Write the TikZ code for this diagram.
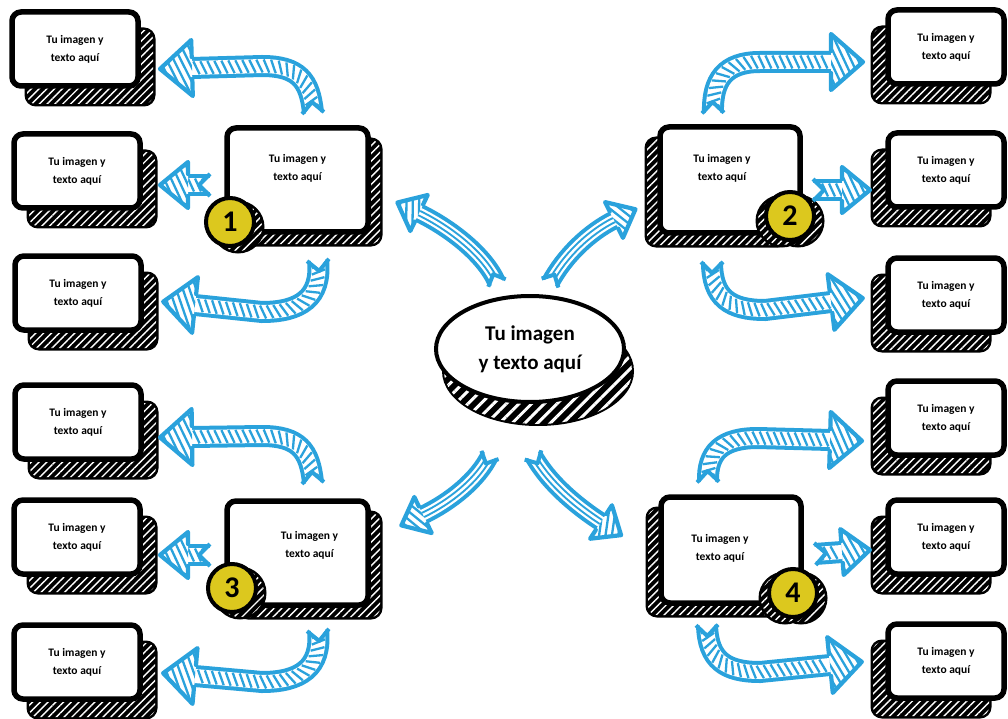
\documentclass[tikz,border=0pt]{standalone}
\usepackage{fontspec}
\setmainfont{Carlito}
\usetikzlibrary{shapes.geometric,shadows,patterns.meta,decorations.markings}
\definecolor{ablue}{HTML}{2AA2DC}
\definecolor{byellow}{HTML}{DCC81E}

% notched tail of an arrow (#1 = half width of the body)
\newcommand\atail[1]{%
  \fill[white] (-1,-#1+3) -- (#1,0) -- (-1,#1-3) -- cycle;
  \draw[ablue, line width=4pt, line join=round] (0,-#1) -- (#1,0) -- (0,#1);
}
% hatched head of an arrow (#1 length, #2 half height, #3 half width of the body)
\newcommand\ahead[3]{%
  \fill[white] (0,-#2) -- (#1,0) -- (0,#2) -- cycle;
  \begin{scope}
    \clip (0,-#2) -- (#1,0) -- (0,#2) -- cycle;
    \foreach \k in {-42,-35,...,42} \draw[ablue, line width=2.3pt] (\k-14,-30) -- (\k+14,30);
  \end{scope}
  \draw[ablue, line width=4.2pt, line join=round, line cap=round]
    (0,-#3) -- (0,-#2) -- (#1,0) -- (0,#2) -- (0,#3);
}

\tikzset{
  hatchshadow/.style 2 args={
    general shadow={shadow xshift=#1, shadow yshift=#2, fill=black, draw=black, line width=5pt},
    general shadow={shadow xshift=#1, shadow yshift=#2,
      pattern={Lines[angle=45,distance=5.5pt,line width=1.4pt]}, pattern color=white}},
  boxbase/.style={rectangle, rounded corners=9pt, draw=black, line width=5.5pt, fill=white,
    align=center, inner sep=2pt, font=\bfseries\fontsize{11.5}{18}\selectfont},
  txt/.style={align=center, inner sep=0pt, font=\bfseries\fontsize{11.5}{18}\selectfont},
  smallL/.style={boxbase, minimum width=126pt, minimum height=74pt, hatchshadow={15pt}{-18pt}},
  smallR/.style={boxbase, minimum width=116pt, minimum height=74pt, hatchshadow={-15pt}{-18pt}},
  midA/.style={boxbase, minimum width=141pt, minimum height=104pt, hatchshadow={12pt}{-12pt}},
  midB/.style={boxbase, minimum width=140pt, minimum height=106pt, hatchshadow={-13pt}{-12pt}},
  badgeA/.style={circle, fill=byellow, draw=black, line width=4pt, minimum size=48pt,
    inner sep=0pt, font=\bfseries\fontsize{30}{30}\selectfont, hatchshadow={8pt}{-5pt}},
  badgeB/.style={badgeA, hatchshadow={-8pt}{-5pt}},
  sidearrow/.style={
    postaction={draw=ablue, line width=22pt},
    postaction={draw=white, line width=14pt},
    postaction={decorate, decoration={markings,
      mark=between positions 5pt and -3pt step 7pt with {\draw[ablue, line width=2.3pt] (-3,-6.5) -- (3,6.5);}}},
    postaction={decorate, decoration={markings, mark=at position 0 with {\atail{11}}}},
    postaction={decorate, decoration={markings, mark=at position 1 with {\ahead{32}{28}{11}}}}},
  chevron/.style={
    postaction={draw=ablue, line width=22pt},
    postaction={draw=white, line width=14pt},
    postaction={decorate, decoration={markings,
      mark=between positions 5pt and -3pt step 7pt with {\draw[ablue, line width=2.3pt] (-3,-6.5) -- (3,6.5);}}},
    postaction={decorate, decoration={markings, mark=at position 0 with {\atail{11}}}},
    postaction={decorate, decoration={markings, mark=at position 1 with {\ahead{28}{23}{11}}}}},
  centerarrow/.style={
    postaction={draw=ablue, line width=19pt},
    postaction={draw=white, line width=11pt},
    postaction={draw=ablue, line width=6.5pt},
    postaction={draw=white, line width=2.5pt},
    postaction={decorate, decoration={markings, mark=at position 0 with {\atail{9.5}}}},
    postaction={decorate, decoration={markings, mark=at position 1 with {\ahead{24}{20}{9.5}}}}},
}

\begin{document}
\begin{tikzpicture}[x=1pt,y=-1pt]
\fill[white] (0,0) rectangle (1008,719);
\useasboundingbox (0,0) rectangle (1008,719);

% ---------- small boxes, left ----------
\node[smallL] (l1) at (75,49)  {Tu imagen y\\texto aquí};
\node[smallL] (l2) at (77,171) {Tu imagen y\\texto aquí};
\node[smallL] (l3) at (78,293) {Tu imagen y\\texto aquí};
\node[smallL] (l4) at (78,422) {Tu imagen y\\texto aquí};
\node[smallL] (l5) at (77,537) {Tu imagen y\\texto aquí};
\node[smallL] (l6) at (77,662) {Tu imagen y\\texto aquí};

% ---------- small boxes, right ----------
\node[smallR] (r1) at (946,47)  {Tu imagen y\\texto aquí};
\node[smallR] (r2) at (946,170) {Tu imagen y\\texto aquí};
\node[smallR] (r3) at (946,295) {Tu imagen y\\texto aquí};
\node[smallR] (r4) at (946,418) {Tu imagen y\\texto aquí};
\node[smallR] (r5) at (946,537) {Tu imagen y\\texto aquí};
\node[smallR] (r6) at (946,661) {Tu imagen y\\texto aquí};

% ---------- middle boxes ----------
\node[midA, label={[txt,yshift=12pt]center:{Tu imagen y\\texto aquí}}] (m1) at (297.5,180) {};
\node[midB, label={[txt,xshift=-8pt,yshift=12pt]center:{Tu imagen y\\texto aquí}}] (m2) at (730,180) {};
\node[midA, label={[txt,xshift=12pt,yshift=8pt]center:{Tu imagen y\\texto aquí}}] (m3) at (297.5,553) {};
\node[midB, label={[txt,xshift=-11pt,yshift=2pt]center:{Tu imagen y\\texto aquí}}] (m4) at (731,550) {};

% ---------- badges ----------
\node[badgeA] (b1) at (230,222) {1};
\node[badgeB] (b2) at (790,216) {2};
\node[badgeA] (b3) at (232,588) {3};
\node[badgeB] (b4) at (793,593) {4};

% ---------- centre ----------
\node[ellipse, draw=black, line width=4pt, fill=white, minimum width=188pt, minimum height=106pt,
  inner sep=0pt, align=center, font=\bfseries\fontsize{21}{29}\selectfont,
  general shadow={shadow xshift=8pt, shadow yshift=-22pt, fill=black, draw=black, line width=4pt},
  general shadow={shadow xshift=8pt, shadow yshift=-22pt,
    pattern={Lines[angle=45,distance=9pt,line width=3pt]}, pattern color=white}]
  (c) at (530,349) {Tu imagen\\y texto aquí};

% ---------- arrow end points ----------
\coordinate (a1s) at (313,113); \coordinate (a1e) at (192,68);
\coordinate (a2s) at (210,185); \coordinate (a2e) at (188,185);
\coordinate (a3s) at (318,260); \coordinate (a3e) at (195,305);
\coordinate (a4s) at (313,483); \coordinate (a4e) at (192,437);
\coordinate (a5s) at (210,555); \coordinate (a5e) at (188,555);
\coordinate (a6s) at (318,630); \coordinate (a6e) at (195,676);
\coordinate (b1s) at (713,113); \coordinate (b1e) at (831,62);
\coordinate (b2s) at (813,190); \coordinate (b2e) at (842,190);
\coordinate (b3s) at (712,262); \coordinate (b3e) at (831,302);
\coordinate (b4s) at (708,482); \coordinate (b4e) at (830,440);
\coordinate (b5s) at (815,554); \coordinate (b5e) at (842,552);
\coordinate (b6s) at (707,625); \coordinate (b6e) at (830,665);

% ---------- side arrows ----------
\path[sidearrow] (a1s) .. controls (310,80) and (298,66) .. (262,66) -- (a1e);
\path[chevron]   (a2s) -- (a2e);
\path[sidearrow] (a3s) .. controls (322,298) and (300,312) .. (262,312) -- (a3e);
\path[sidearrow] (a4s) .. controls (310,450) and (298,436) .. (262,436) -- (a4e);
\path[chevron]   (a5s) -- (a5e);
\path[sidearrow] (a6s) .. controls (322,668) and (300,682) .. (262,682) -- (a6e);

\path[sidearrow] (b1s) .. controls (712,80) and (725,62) .. (760,62) -- (b1e);
\path[chevron]   (b2s) -- (b2e);
\path[sidearrow] (b3s) .. controls (712,298) and (730,310) .. (765,310) -- (b3e);
\path[sidearrow] (b4s) .. controls (707,452) and (722,438) .. (758,438) -- (b4e);
\path[chevron]   (b5s) -- (b5e);
\path[sidearrow] (b6s) .. controls (708,660) and (725,672) .. (760,672) -- (b6e);

% ---------- centre arrows ----------
\coordinate (c1s) at (497,283); \coordinate (c1e) at (419,213);
\coordinate (c2s) at (550,283); \coordinate (c2e) at (614,220);
\coordinate (c3s) at (490,455); \coordinate (c3e) at (423,515);
\coordinate (c4s) at (533,455); \coordinate (c4e) at (601,522);
\path[centerarrow] (c1s) .. controls (485,255) and (450,228) .. (c1e);
\path[centerarrow] (c2s) .. controls (565,255) and (590,232) .. (c2e);
\path[centerarrow] (c3s) .. controls (478,480) and (450,502) .. (c3e);
\path[centerarrow] (c4s) .. controls (548,482) and (575,505) .. (c4e);
\end{tikzpicture}
\end{document}
